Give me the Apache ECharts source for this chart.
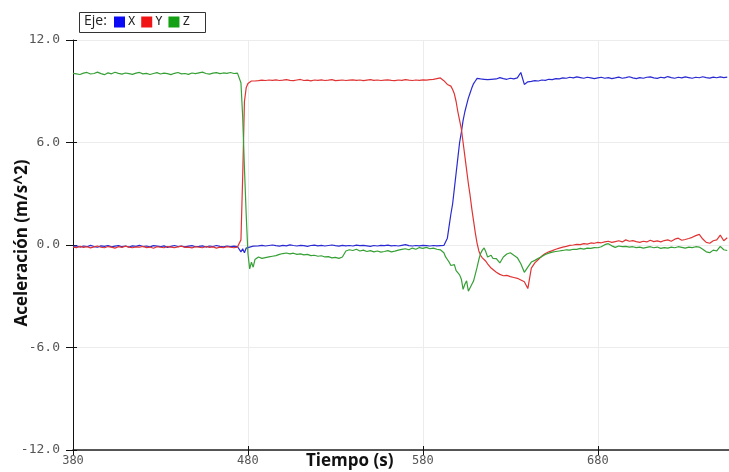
<!DOCTYPE html>
<html>
<head>
<meta charset="utf-8">
<script src="https://cdn.jsdelivr.net/npm/echarts@6/dist/echarts.min.js"></script>
<style>
  html, body { margin: 0; padding: 0; background: #fff; }
  #chart { width: 729px; height: 472px; }
</style>
</head>
<body>
<div id="chart"></div>
<script>
// Sample times (s)
const time = [
  380,382,384,386,388,390,392,394,396,398,
  400,402,404,406,408,410,412,414,416,418,
  420,422,424,426,428,430,432,434,436,438,
  440,442,444,446,448,450,452,454,456,458,
  460,462,464,466,468,470,472,474,
  475,476,477,478,479,480,481,482,483,484,
  486,488,490,492,494,496,498,500,502,504,
  506,508,510,512,514,516,518,520,522,524,
  526,528,530,532,534,536,538,540,542,544,
  546,548,550,552,554,556,558,560,562,564,
  566,568,570,572,574,576,578,580,582,584,
  586,588,590,
  591,592,593,594,595,596,597,598,599,600,
  601,602,603,604,605,606,607,608,609,610,
  611,612,613,614,615,616,617,618,619,620,
  622,624,626,628,630,632,634,636,638,640,
  642,644,646,648,650,652,654,656,658,660,
  662,664,666,668,670,672,674,676,678,680,
  682,684,686,688,690,692,694,696,698,700,
  702,704,706,708,710,712,714,716,718,720,
  722,724,726,728,730,732,734,736,738,740,
  742,744,746,748,750,752,754
];

// Acceleration on the X axis (m/s^2)
const ejeX = [
  -0.08,-0.05,-0.12,-0.06,-0.10,-0.02,-0.09,-0.13,-0.05,-0.08,
  -0.03,-0.11,-0.07,-0.04,-0.10,-0.06,-0.12,-0.05,-0.08,-0.02,
  -0.09,-0.06,-0.11,-0.04,-0.07,-0.10,-0.05,-0.14,-0.08,-0.03,
  -0.09,-0.06,-0.11,-0.07,-0.04,-0.10,-0.08,-0.05,-0.12,-0.06,
  -0.09,-0.03,-0.08,-0.11,-0.06,-0.10,-0.07,-0.09,
  -0.15,-0.40,-0.22,-0.45,-0.18,-0.08,-0.12,-0.05,-0.07,-0.04,
  -0.05,-0.02,-0.06,-0.03,0.00,-0.04,-0.07,-0.02,-0.05,0.01,
  -0.03,-0.06,-0.02,-0.04,-0.08,-0.03,-0.01,-0.05,-0.02,-0.06,
  -0.03,0.00,-0.04,-0.07,-0.02,-0.05,-0.03,-0.06,-0.01,-0.04,
  -0.02,-0.05,-0.08,-0.03,-0.06,-0.02,-0.04,-0.01,-0.05,-0.03,
  -0.06,-0.02,0.02,-0.04,-0.06,-0.03,-0.05,-0.02,-0.04,-0.06,
  -0.03,-0.05,-0.04,
  -0.05,-0.03,-0.02,0.40,1.10,1.80,2.40,3.30,4.20,5.10,
  6.00,6.60,7.30,7.80,8.20,8.60,8.90,9.20,9.45,9.60,
  9.75,9.85,9.72,9.78,9.70,9.80,9.68,9.75,9.70,9.78,
  9.72,9.80,9.74,9.70,9.76,9.72,9.78,10.10,9.40,9.55,
  9.58,9.62,9.60,9.66,9.64,9.70,9.68,9.74,9.72,9.78,
  9.76,9.82,9.78,9.84,9.80,9.76,9.82,9.78,9.74,9.78,
  9.82,9.76,9.80,9.74,9.78,9.83,9.76,9.80,9.85,9.78,
  9.74,9.80,9.76,9.82,9.84,9.78,9.75,9.82,9.78,9.86,
  9.80,9.76,9.82,9.78,9.84,9.80,9.76,9.82,9.79,9.85,
  9.80,9.77,9.83,9.79,9.84,9.80,9.83
];

// Acceleration on the Y axis (m/s^2)
const ejeY = [
  -0.12,-0.15,-0.08,-0.14,-0.10,-0.17,-0.11,-0.06,-0.13,-0.16,
  -0.09,-0.12,-0.18,-0.10,-0.14,-0.07,-0.12,-0.16,-0.11,-0.13,
  -0.08,-0.15,-0.12,-0.19,-0.10,-0.13,-0.16,-0.09,-0.12,-0.15,
  -0.11,-0.07,-0.14,-0.12,-0.17,-0.10,-0.13,-0.16,-0.09,-0.14,
  -0.11,-0.18,-0.12,-0.15,-0.10,-0.13,-0.16,-0.12,
  -0.14,0.30,4.00,8.40,9.20,9.45,9.55,9.60,9.62,9.60,
  9.62,9.65,9.63,9.66,9.64,9.67,9.63,9.65,9.68,9.64,
  9.62,9.66,9.69,9.63,9.65,9.61,9.66,9.64,9.67,9.63,
  9.65,9.68,9.62,9.64,9.66,9.63,9.65,9.67,9.64,9.66,
  9.62,9.65,9.68,9.64,9.66,9.63,9.65,9.67,9.64,9.62,
  9.66,9.64,9.68,9.65,9.63,9.66,9.64,9.67,9.65,9.68,
  9.70,9.74,9.78,
  9.80,9.62,9.55,9.40,9.42,9.30,9.10,8.85,8.40,7.80,
  7.30,6.80,6.00,5.20,4.40,3.60,2.90,2.10,1.40,0.70,
  0.10,-0.35,-0.60,-0.75,-0.85,-0.95,-1.10,-1.20,-1.35,-1.45,
  -1.60,-1.72,-1.80,-1.78,-1.85,-1.90,-1.95,-2.05,-2.15,-2.55,
  -1.35,-1.05,-0.85,-0.65,-0.50,-0.40,-0.33,-0.25,-0.18,-0.12,
  -0.08,-0.02,0.00,0.04,0.02,0.08,0.05,0.12,0.10,0.15,
  0.13,0.18,0.22,0.15,0.20,0.25,0.18,0.30,0.22,0.26,
  0.20,0.15,0.22,0.18,0.28,0.20,0.24,0.18,0.26,0.30,
  0.22,0.34,0.40,0.28,0.32,0.38,0.45,0.55,0.62,0.35,
  0.15,0.10,0.25,0.30,0.58,0.25,0.42
];

// Acceleration on the Z axis (m/s^2)
const ejeZ = [
  10.05,10.02,9.98,10.06,10.10,10.01,10.04,10.12,10.03,9.97,
  10.08,10.02,10.11,10.05,10.00,10.07,10.03,9.99,10.06,10.10,
  10.02,10.05,9.98,10.04,10.09,10.01,10.06,10.03,9.97,10.05,
  10.10,10.02,10.04,9.99,10.07,10.03,10.08,10.12,10.04,10.00,
  10.06,10.09,10.03,10.07,10.05,10.10,10.04,10.06,
  10.02,9.50,7.50,4.50,1.80,-0.50,-1.40,-1.00,-1.30,-0.85,
  -0.70,-0.78,-0.74,-0.70,-0.66,-0.62,-0.55,-0.50,-0.47,-0.52,
  -0.48,-0.55,-0.52,-0.58,-0.55,-0.62,-0.60,-0.66,-0.63,-0.70,
  -0.68,-0.75,-0.72,-0.78,-0.70,-0.35,-0.28,-0.32,-0.25,-0.35,
  -0.30,-0.38,-0.33,-0.40,-0.35,-0.42,-0.38,-0.33,-0.40,-0.36,
  -0.30,-0.26,-0.22,-0.28,-0.18,-0.25,-0.15,-0.20,-0.14,-0.22,
  -0.18,-0.25,-0.28,
  -0.30,-0.45,-0.70,-0.85,-1.00,-1.20,-1.30,-1.15,-1.50,-1.60,
  -1.75,-2.00,-2.60,-2.30,-2.10,-2.70,-2.50,-2.30,-2.10,-1.70,
  -1.30,-0.85,-0.50,-0.30,-0.17,-0.40,-0.70,-0.74,-0.60,-0.78,
  -0.80,-1.05,-0.70,-0.53,-0.45,-0.60,-0.74,-1.10,-1.60,-1.30,
  -1.00,-0.90,-0.78,-0.68,-0.55,-0.48,-0.42,-0.38,-0.35,-0.32,
  -0.28,-0.30,-0.25,-0.26,-0.20,-0.24,-0.18,-0.20,-0.15,-0.16,
  -0.10,0.02,0.08,-0.05,-0.14,-0.06,-0.10,-0.08,-0.12,-0.10,
  -0.15,-0.12,-0.18,-0.14,-0.10,-0.16,-0.12,-0.20,-0.15,-0.18,
  -0.12,-0.16,-0.10,-0.14,-0.18,-0.12,-0.15,-0.10,-0.12,-0.25,
  -0.40,-0.45,-0.30,-0.35,-0.08,-0.28,-0.32
];

const seriesNames = ['X', 'Y', 'Z'];
const lineColors = ['#2a2ad2', '#e03434', '#36a036'];
const keyColors = ['#0a0af5', '#f01414', '#14a014'];

// The time axis starts at T0; values are plotted as offsets from it so the
// 100 s tick step lines up with the first labelled tick.
const T0 = 380;
const T1 = 755;
const Y_MIN = -12;
const Y_MAX = 12;
const Y_STEP = 6;
const X_STEP = 100;
const monoFont = 'DejaVu Sans Mono';

const chart = echarts.init(document.getElementById('chart'), null, { renderer: 'canvas' });

const toPoints = vals => time.map((t, i) => [t - T0, vals[i]]);

// Second copy of each axis only draws the short inner half of the tick marks,
// so every tick crosses its axis line.
const xBase = { type: 'value', min: 0, max: T1 - T0, interval: X_STEP, position: 'bottom' };
const yBase = { type: 'value', min: Y_MIN, max: Y_MAX, interval: Y_STEP, position: 'left' };

chart.setOption({
  animation: false,
  backgroundColor: '#ffffff',
  grid: { left: 73, right: 0, top: 40, bottom: 22, containLabel: false },
  xAxis: [
    Object.assign({}, xBase, {
      axisLine: { show: true, onZero: false, lineStyle: { color: '#222', width: 1.5 } },
      axisTick: { show: true, length: 5, lineStyle: { color: '#111' } },
      axisLabel: {
        showMaxLabel: false,
        margin: 5,
        color: '#555',
        fontFamily: monoFont,
        fontSize: 12,
        formatter: v => String(v + T0)
      },
      splitLine: { show: true, lineStyle: { color: '#ececec', width: 1 } }
    }),
    Object.assign({}, xBase, {
      axisLine: { show: false, onZero: false },
      axisTick: { show: true, inside: true, length: 4, lineStyle: { color: '#111' } },
      axisLabel: { show: false },
      splitLine: { show: false }
    })
  ],
  yAxis: [
    Object.assign({}, yBase, {
      axisLine: { show: true, onZero: false, lineStyle: { color: '#111', width: 1 } },
      axisTick: { show: true, length: 7, lineStyle: { color: '#111' } },
      axisLabel: {
        margin: 13,
        color: '#555',
        fontFamily: monoFont,
        fontSize: 13,
        formatter: v => v.toFixed(1)
      },
      splitLine: { show: true, lineStyle: { color: '#ececec', width: 1 } }
    }),
    Object.assign({}, yBase, {
      axisLine: { show: false, onZero: false },
      axisTick: { show: true, inside: true, length: 4, lineStyle: { color: '#111' } },
      axisLabel: { show: false },
      splitLine: { show: false }
    })
  ],
  legend: {
    left: 114,
    top: 16,
    z: 10,
    icon: 'rect',
    itemWidth: 11,
    itemHeight: 11,
    itemGap: 6,
    padding: 0,
    textStyle: { fontFamily: monoFont, fontSize: 12, color: '#222', padding: [0, 0, 0, -2] },
    data: seriesNames.map((n, i) => ({ name: n, itemStyle: { color: keyColors[i] } }))
  },
  graphic: [
    {
      type: 'rect',
      z: 1,
      shape: { x: 79.5, y: 12.5, width: 126, height: 20 },
      style: { fill: '#fff', stroke: '#333', lineWidth: 1 }
    },
    {
      type: 'text',
      z: 2,
      left: 84,
      top: 14,
      style: { text: 'Eje:', fill: '#222', font: '14px "Open Sans", sans-serif' }
    },
    {
      type: 'text',
      left: 306,
      top: 453,
      style: { text: 'Tiempo (s)', fill: '#111', font: 'bold 17px "Open Sans", sans-serif' }
    },
    {
      type: 'text',
      x: 22,
      y: 243,
      rotation: Math.PI / 2,
      style: {
        text: 'Aceleración (m/s^2)',
        fill: '#111',
        font: 'bold 17px "Open Sans", sans-serif',
        align: 'center',
        verticalAlign: 'middle'
      }
    }
  ],
  series: [ejeX, ejeY, ejeZ].map((vals, i) => ({
    name: seriesNames[i],
    type: 'line',
    data: toPoints(vals),
    showSymbol: false,
    symbol: 'none',
    lineStyle: { color: lineColors[i], width: 1.2 },
    itemStyle: { color: lineColors[i] }
  }))
});
</script>
</body>
</html>
